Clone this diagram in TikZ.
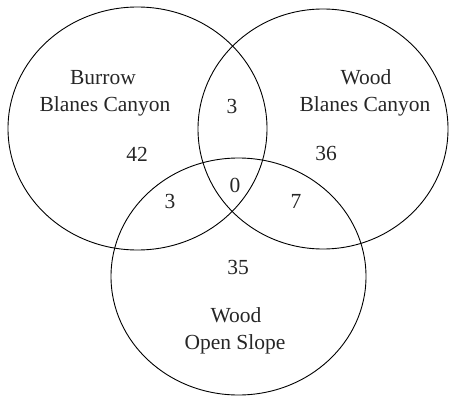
\documentclass[tikz,border=0pt]{standalone}
\usepackage{fontspec}
\setmainfont{Liberation Serif}
\begin{document}
\begin{tikzpicture}[x=1pt,y=-1pt,
  ring/.style={draw=black,line width=0.9pt},
  lbl/.style={anchor=base,inner sep=0pt,font=\fontsize{21.5}{25}\selectfont,text=black!85}]
\useasboundingbox (0,0) rectangle (449,396);
\draw[ring] (137.5,128.5) ellipse [x radius=129.5pt, y radius=121.5pt];
\draw[ring] (323,129) ellipse [x radius=125pt, y radius=120pt];
\draw[ring] (238.5,276.5) ellipse [x radius=127.5pt, y radius=118.5pt];
\node[lbl] (burrow) at (103,84) {Burrow};
\node[lbl] (bc1) at (105,111) {Blanes Canyon};
\node[lbl] (wood1) at (366,84) {Wood};
\node[lbl] (bc2) at (365,111) {Blanes Canyon};
\node[lbl] (n3a) at (232,113) {3};
\node[lbl] (n42) at (137,161) {42};
\node[lbl] (n36) at (326,160) {36};
\node[lbl] (n0) at (235,192) {0};
\node[lbl] (n3b) at (170,208) {3};
\node[lbl] (n7) at (296,208) {7};
\node[lbl] (n35) at (238,274) {35};
\node[lbl] (wood2) at (236,322) {Wood};
\node[lbl] (os) at (235,349) {Open Slope};
\end{tikzpicture}
\end{document}
